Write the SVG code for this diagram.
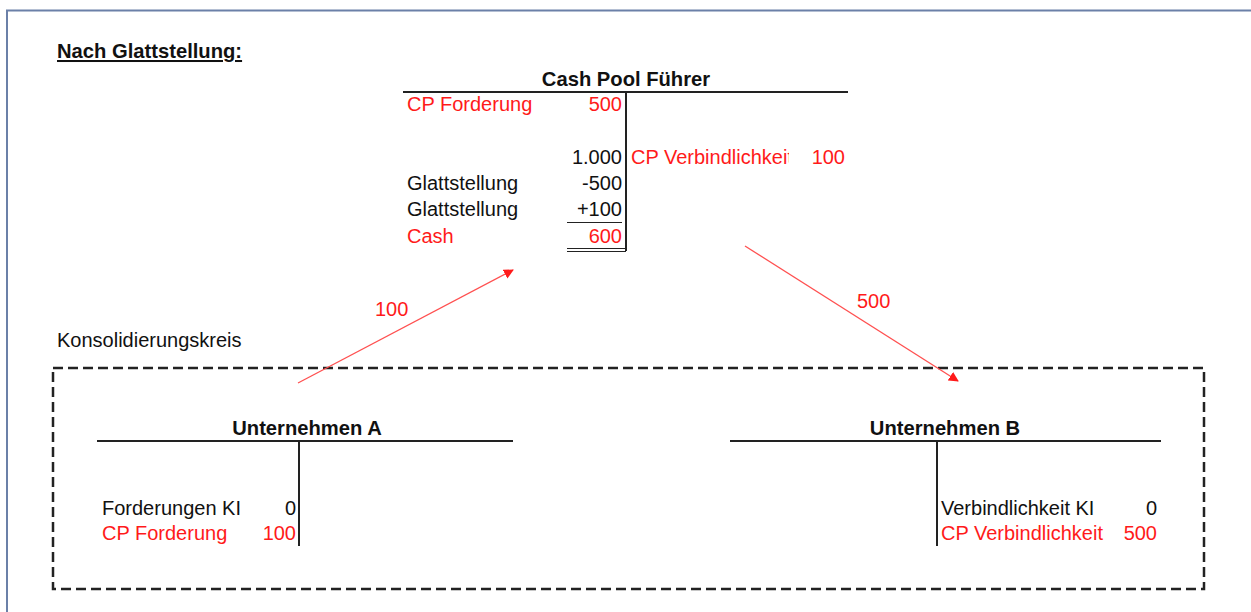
<svg xmlns="http://www.w3.org/2000/svg" width="1251" height="612" viewBox="0 0 1251 612">
<style>
text{font-family:"Liberation Sans",Arial,sans-serif;font-size:20px;fill:#111}
.b{font-weight:bold;font-size:20.2px}
.r{fill:#ff1a1a}
.e{text-anchor:end}
.m{text-anchor:middle}
.ln{stroke:#222;stroke-width:2;fill:none}
.ar{stroke:#ff5050;stroke-width:1.3;fill:none}
</style>
<defs>
<marker id="ah" viewBox="0 0 10 10" refX="9" refY="5" markerWidth="10" markerHeight="10" markerUnits="userSpaceOnUse" orient="auto">
<path d="M0,0 L10,5 L0,10 z" fill="#ff1a1a"/>
</marker>
<clipPath id="cv"><rect x="628" y="140" width="161" height="40"/></clipPath>
</defs>
<rect width="1251" height="612" fill="#fff"/>
<path d="M7,620 V10.5 H1260" stroke="#6b80a8" stroke-width="2" fill="none"/>
<text x="57" y="58" class="b" text-decoration="underline">Nach Glattstellung:</text>
<text x="57" y="347">Konsolidierungskreis</text>
<rect id="konsolidierungskreis" x="53" y="368" width="1151" height="221" fill="none" stroke="#222" stroke-width="2.5" stroke-dasharray="10,5"/>
<g id="cashpool">
<text x="626" y="86" class="b m">Cash Pool Führer</text>
<path class="ln" d="M403,92 H848 M626,92 V251"/>
<text x="407" y="111" class="r">CP Forderung</text>
<text x="622" y="111" class="r e">500</text>
<text x="622" y="164" class="e">1.000</text>
<text x="631" y="164" class="r" clip-path="url(#cv)">CP Verbindlichkeit</text>
<text x="845" y="164" class="r e">100</text>
<text x="407" y="190">Glattstellung</text>
<text x="622" y="190" class="e">-500</text>
<text x="407" y="216">Glattstellung</text>
<text x="622" y="216" class="e">+100</text>
<path d="M567,222.5 H622" stroke="#222" stroke-width="1.2"/>
<text x="407" y="243" class="r">Cash</text>
<text x="622" y="243" class="r e">600</text>
<path d="M567,248.5 H626 M567,251.5 H626" stroke="#222" stroke-width="1.2"/>
</g>
<g id="unternehmenA">
<text x="307" y="435" class="b m">Unternehmen A</text>
<path class="ln" d="M97,441 H513 M299,441 V546"/>
<text x="102" y="515">Forderungen KI</text>
<text x="296" y="515" class="e">0</text>
<text x="102" y="540" class="r">CP Forderung</text>
<text x="296" y="540" class="r e">100</text>
</g>
<g id="unternehmenB">
<text x="945" y="435" class="b m">Unternehmen B</text>
<path class="ln" d="M730,441 H1161 M937,441 V546"/>
<text x="941" y="515">Verbindlichkeit KI</text>
<text x="1157" y="515" class="e">0</text>
<text x="941" y="540" class="r">CP Verbindlichkeit</text>
<text x="1157" y="540" class="r e">500</text>
</g>
<g id="connectors">
<line class="ar" x1="298" y1="383" x2="513" y2="270" marker-end="url(#ah)"/>
<line class="ar" x1="745" y1="246" x2="958" y2="381" marker-end="url(#ah)"/>
<text x="375" y="316" class="r">100</text>
<text x="857" y="308" class="r">500</text>
</g>
</svg>
